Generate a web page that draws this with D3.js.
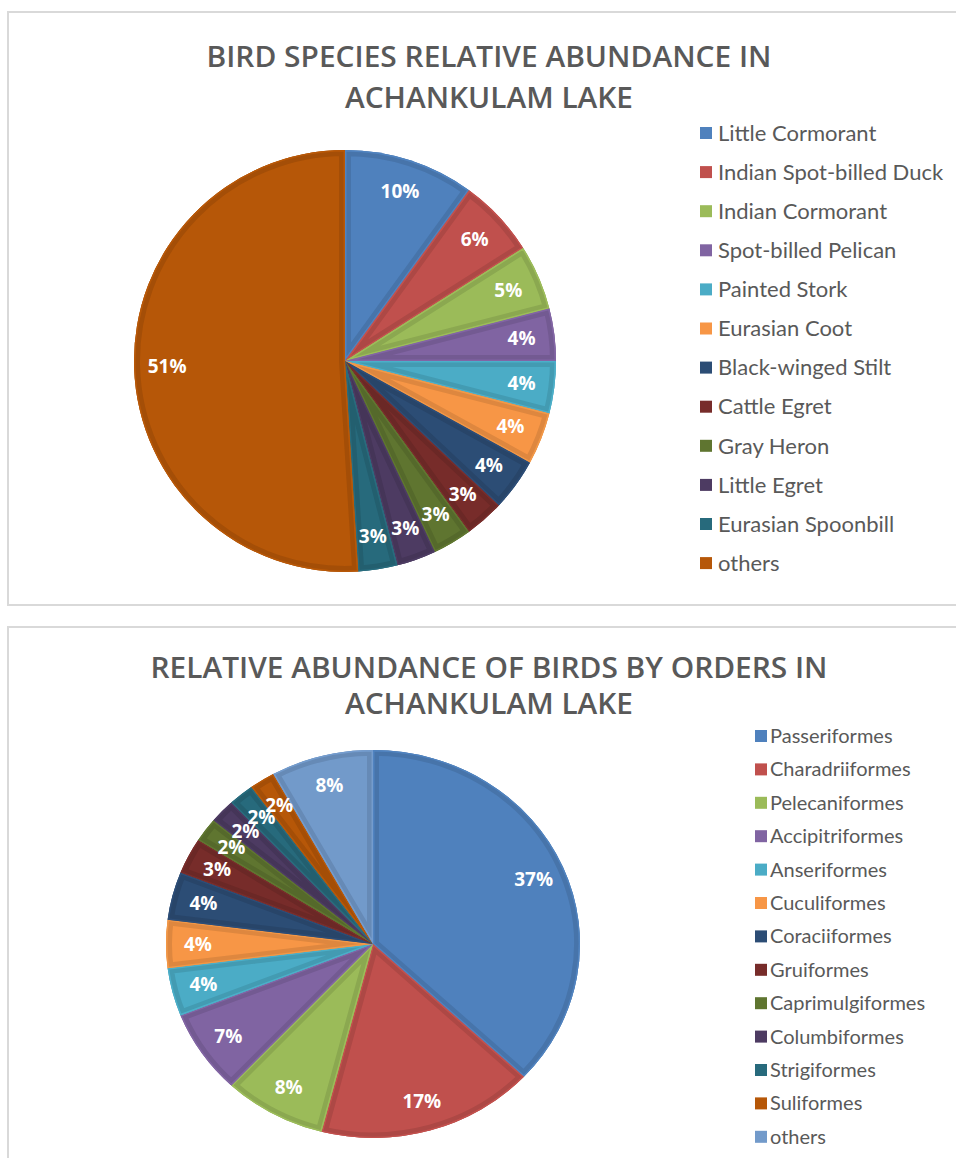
<!DOCTYPE html>
<html><head><meta charset="utf-8">
<script src="https://cdn.jsdelivr.net/npm/d3@7"></script>
<style>body{margin:0;background:#fff}svg{display:block}</style>
</head><body>
<svg id="c" width="956" height="1158"></svg>
<script>
// ---- data ----
const speciesNames = ["Little Cormorant","Indian Spot-billed Duck","Indian Cormorant","Spot-billed Pelican","Painted Stork","Eurasian Coot","Black-winged Stilt","Cattle Egret","Gray Heron","Little Egret","Eurasian Spoonbill","others"];
const speciesValues = [10,6,5,4,4,4,4,3,3,3,3,51];
const orderNames = ["Passeriformes","Charadriiformes","Pelecaniformes","Accipitriformes","Anseriformes","Cuculiformes","Coraciiformes","Gruiformes","Caprimulgiformes","Columbiformes","Strigiformes","Suliformes","others"];
const orderValues = [37,17,8,7,4,4,4,3,2,2,2,2,8];
const palette = ["#4F81BD","#C0504D","#9BBB59","#8064A2","#4BACC6","#F79646","#2C4D75","#772C2A","#5F7530","#4D3B62","#276A7C","#B65708","#729ACA"];
const title1 = ["BIRD SPECIES RELATIVE ABUNDANCE IN","ACHANKULAM LAKE"];
const title2 = ["RELATIVE ABUNDANCE OF BIRDS BY ORDERS IN","ACHANKULAM LAKE"];

const svg = d3.select("#c");
const defs = svg.append("defs");

function panel(y, h){
  svg.append("rect").attr("x",8).attr("y",y).attr("width",960).attr("height",h)
    .attr("fill","#fff").attr("stroke","#d9d9d9").attr("stroke-width",2);
}
panel(12, 593);
panel(627, 560);

function titles(lines, ys, widths){
  lines.forEach((t,i)=>{
    svg.append("text").attr("x",489).attr("y",ys[i]).attr("text-anchor","middle")
      .attr("font-family","'Open Sans', Lato, sans-serif").attr("font-weight",600)
      .attr("font-size",29).attr("fill","#595959")
      .attr("textLength",widths[i]).attr("lengthAdjust","spacingAndGlyphs")
      .text(t);
  });
}
titles(title1,[67,108],[565,288]);
titles(title2,[678,714],[677,288]);

function pie(id, names, values, cx, cy, r, sy, labelR){
  const g = svg.append("g").attr("transform",`translate(${cx},${cy}) scale(1,${sy})`);
  const arcs = d3.pie().sort(null).value(d=>d)(values);
  const arc = d3.arc().innerRadius(0).outerRadius(r);
  arcs.forEach((a,i)=>{
    const col = palette[i];
    const cid = id+"clip"+i;
    defs.append("clipPath").attr("id",cid).append("path").attr("d",arc(a))
      .attr("transform",`translate(${cx},${cy}) scale(1,${sy})`);
    g.append("path").attr("d",arc(a)).attr("fill",col);
    svg.append("g").attr("clip-path",`url(#${cid})`)
      .append("path").attr("d",arc(a)).attr("transform",`translate(${cx},${cy}) scale(1,${sy})`)
      .attr("fill","none").attr("stroke",d3.color(col).darker(0.3)).attr("stroke-width",12)
      .attr("stroke-linejoin","round");
    svg.append("g").attr("clip-path",`url(#${cid})`)
      .append("path").attr("d",arc(a)).attr("transform",`translate(${cx},${cy}) scale(1,${sy})`)
      .attr("fill","none").attr("stroke",d3.color(col).brighter(0.25)).attr("stroke-width",3)
      .attr("stroke-opacity",0.6);
  });
  const la = d3.arc().innerRadius(labelR).outerRadius(labelR);
  arcs.forEach((a,i)=>{
    const [x,y] = la.centroid(a);
    svg.append("text").attr("x",cx+x).attr("y",cy+y*sy).attr("dy","0.35em")
      .attr("text-anchor","middle").attr("font-family","'Open Sans', Lato, sans-serif")
      .attr("font-weight","bold").attr("font-size",19).attr("fill","#fff")
      .text(values[i]+"%");
  });
}
pie("a", speciesNames, speciesValues, 345, 361, 211, 1, 178);
pie("b", orderNames, orderValues, 373, 944, 207, 0.937, 175);

function legend(names, x, tx, y0, step, fs){
  names.forEach((n,i)=>{
    const y = y0 + i*step;
    svg.append("rect").attr("x",x).attr("y",y-6).attr("width",12).attr("height",12).attr("fill",palette[i]);
    svg.append("text").attr("x",tx).attr("y",y).attr("dy","0.35em")
      .attr("font-family","Lato, 'Open Sans', sans-serif").attr("font-size",fs).attr("fill","#595959")
      .text(n);
  });
}
legend(speciesNames, 700, 718, 133, 39.1, 22);
legend(orderNames, 755, 770, 736, 33.4, 20);
</script>
</body></html>
